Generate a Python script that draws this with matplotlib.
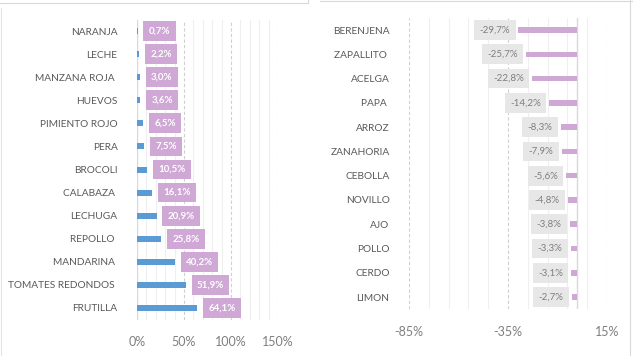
import matplotlib
matplotlib.use("Agg")
import matplotlib.pyplot as plt
from matplotlib.lines import Line2D

plt.rcParams['font.family'] = ['Lato', 'DejaVu Sans']

# 데이터 : 상승 품목
up_items = ["NARANJA", "LECHE", "MANZANA ROJA ", "HUEVOS", "PIMIENTO ROJO", "PERA",
            "BROCOLI", "CALABAZA ", "LECHUGA", "REPOLLO ", "MANDARINA ",
            "TOMATES REDONDOS ", "FRUTILLA"]
up_values = [0.7, 2.2, 3.0, 3.6, 6.5, 7.5, 10.5, 16.1, 20.9, 25.8, 40.2, 51.9, 64.1]
up_ticks = [0, 50, 100, 150]

# 데이터 : 하락 품목
down_items = ["BERENJENA", "ZAPALLITO ", "ACELGA", "PAPA ", "ARROZ", "ZANAHORIA",
              "CEBOLLA", "NOVILLO", "AJO", "POLLO", "CERDO", "LIMON"]
down_values = [-29.7, -25.7, -22.8, -14.2, -8.3, -7.9, -5.6, -4.8, -3.8, -3.3, -3.1, -2.7]
down_ticks = [-85, -35, 15]

BLUE = "#5B9BD5"
PURPLE = "#CFA8D6"
GREY_TXT = "#7F7F7F"
LABEL_TXT = "#595959"

fig = plt.figure(figsize=(6.33, 3.56), dpi=100)

## ========================================================
## 왼쪽 : 상승
## ========================================================
ax1 = fig.add_axes([137 / 633, 1 - 319.5 / 356, 141 / 633, 300 / 356])
y1 = list(range(len(up_items)))
ax1.barh(y1, up_values, height=0.26, color=BLUE, zorder=3)
ax1.set_xlim(0, 150)
ax1.set_ylim(len(up_items) - 0.5, -0.5)
ax1.set_yticks(y1)
ax1.set_yticklabels(up_items, fontsize=7.3, color=LABEL_TXT)
ax1.set_xticks(up_ticks)
ax1.set_xticklabels([f"{t}%" for t in up_ticks], fontsize=9, color=GREY_TXT)
ax1.set_xticks(range(0, 151, 10), minor=True)
ax1.tick_params(axis="both", length=0, which="both")
ax1.tick_params(axis="y", pad=14)
ax1.tick_params(axis="x", pad=12)
ax1.grid(axis="x", which="minor", color="#EFEFEF", lw=0.8, zorder=0)
ax1.grid(axis="x", which="major", color="#D0D0D0", lw=0.8, ls=(0, (3, 2)), zorder=1)
for s in ax1.spines.values():
    s.set_visible(False)
ax1.axvline(0, color="#D9D9D9", lw=1, zorder=2)

for yy, v in zip(y1, up_values):
    ax1.annotate(f"{v:.1f}%".replace(".", ","), (v, yy), xytext=(8, 0),
                 textcoords="offset points", ha="left", va="center",
                 fontsize=7, fontweight="bold", color="white", zorder=5,
                 bbox=dict(boxstyle="square,pad=0.55", fc=PURPLE, ec="none"))

## ========================================================
## 오른쪽 : 하락
## ========================================================
ax2 = fig.add_axes([409 / 633, 1 - 309.2 / 356, 198 / 633, 291.3 / 356])
y2 = list(range(len(down_items)))
ax2.barh(y2, down_values, height=0.23, color=PURPLE, zorder=3)
ax2.set_xlim(-85, 15)
ax2.set_ylim(len(down_items) - 0.5, -0.5)
ax2.set_yticks(y2)
ax2.set_yticklabels(down_items, fontsize=7.3, color=LABEL_TXT)
ax2.set_xticks(down_ticks)
ax2.set_xticklabels([f"{t}%" for t in down_ticks], fontsize=9, color=GREY_TXT)
ax2.set_xticks(range(-85, 16, 10), minor=True)
ax2.tick_params(axis="both", length=0, which="both")
ax2.tick_params(axis="y", pad=14)
ax2.tick_params(axis="x", pad=12)
ax2.grid(axis="x", which="minor", color="#EFEFEF", lw=0.8, zorder=0)
ax2.grid(axis="x", which="major", color="#D0D0D0", lw=0.8, ls=(0, (3, 2)), zorder=1)
for s in ax2.spines.values():
    s.set_visible(False)
ax2.axvline(0, color="#D9D9D9", lw=1, zorder=2)

for yy, v in zip(y2, down_values):
    ax2.annotate(f"{v:.1f}%".replace(".", ","), (v, yy), xytext=(-6, 0),
                 textcoords="offset points", ha="right", va="center",
                 fontsize=7, color=GREY_TXT, zorder=5,
                 bbox=dict(boxstyle="square,pad=0.55", fc="#E7E7E7", ec="none"))

# 엑셀 차트 테두리 흔적
fig.add_artist(Line2D([0, 308 / 633], [1 - 3 / 356, 1 - 3 / 356], color="#D9D9D9", lw=0.8))
fig.add_artist(Line2D([308 / 633, 308 / 633], [1 - 3 / 356, 1], color="#D9D9D9", lw=0.8))
fig.add_artist(Line2D([1 / 633, 1 / 633], [0, 1 - 8 / 356], color="#E3E3E3", lw=0.8))
fig.add_artist(Line2D([320 / 633, 1], [1 - 1 / 356, 1 - 1 / 356], color="#D9D9D9", lw=0.8))
fig.add_artist(Line2D([630 / 633, 630 / 633], [0, 1], color="#D9D9D9", lw=0.8))

fig.savefig("out.png", dpi=100)
